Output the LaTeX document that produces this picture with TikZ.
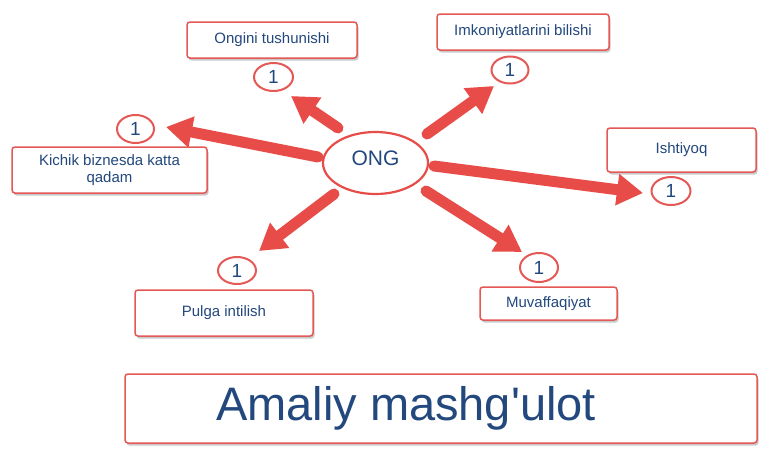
\documentclass[tikz,border=0pt]{standalone}
\usepackage{fontspec}
\setmainfont{Liberation Sans}
\usetikzlibrary{arrows.meta,shadows,shapes.geometric}
\definecolor{arrred}{RGB}{232,76,72}
\definecolor{brdred}{RGB}{228,88,86}
\definecolor{txtblue}{RGB}{35,72,125}
\tikzset{
  lbox/.style={draw=brdred, line width=1.5pt, rounded corners=3pt, fill=white,
    text=txtblue, font=\fontsize{15}{17}\selectfont, align=center, inner sep=2pt,
    drop shadow={shadow xshift=1.5pt, shadow yshift=-2.5pt, opacity=0.35, fill=black!60}},
  num/.style={ellipse, draw=brdred, line width=2pt, fill=white, text=txtblue,
    font=\fontsize{19}{21}\selectfont, inner sep=0pt},
  bigarrow/.style={draw=arrred, line width=11pt, line cap=round,
    -{Triangle[width=30pt,length=26pt]}},
}
\begin{document}
\begin{tikzpicture}[x=1pt,y=-1pt]
\useasboundingbox[fill=white] (0,0) rectangle (770,458);

% boxes
\node[lbox, minimum width=170pt, minimum height=36pt] (b1) at (272,40) {Ongini tushunishi};
\node[lbox, minimum width=172pt, minimum height=36pt] (b2) at (523,32) {Imkoniyatlarini bilishi};
\node[lbox, minimum width=195pt, minimum height=46pt] (b3) at (109.5,170) {Kichik biznesda katta\\qadam};
\node[lbox, minimum width=149pt, minimum height=44pt] (b4) at (681.5,150) {Ishtiyoq};
\node[lbox, minimum width=178pt, minimum height=46pt] (b5) at (224,313) {Pulga intilish};
\node[lbox, minimum width=137pt, minimum height=33pt] (b6) at (548.5,303.5) {Muvaffaqiyat};
\node[lbox, minimum width=632pt, minimum height=69pt] (big) at (441,408.5) {};
\node[text=txtblue, font=\fontsize{47}{50}\selectfont] (bigt) at (406,408) {Amaliy mashg\textquotesingle ulot};

% number ellipses
\node[num, minimum width=39pt, minimum height=28pt] (c1) at (273.5,77) {1};
\node[num, minimum width=37pt, minimum height=27pt] (c2) at (510,70) {1};
\node[num, minimum width=37pt, minimum height=28pt] (c3) at (135.5,129) {1};
\node[num, minimum width=39pt, minimum height=28pt] (c4) at (671,191) {1};
\node[num, minimum width=38pt, minimum height=27pt] (c5) at (237,270.5) {1};
\node[num, minimum width=38pt, minimum height=29pt] (c6) at (539,267.5) {1};

% centre
\node[ellipse, draw=arrred, line width=2.2pt, fill=white, minimum width=105pt, minimum height=62pt] (ong) at (375.5,163) {};
\node[text=txtblue, font=\fontsize{21}{23}\selectfont] (ongt) at (375.5,158) {ONG};

% arrow ends
\coordinate (s1) at (338,128); \coordinate (e1) at (291,96);
\coordinate (s2) at (427,134); \coordinate (e2) at (494,86);
\coordinate (s3) at (318,157); \coordinate (e3) at (166,127);
\coordinate (s4) at (434,166); \coordinate (e4) at (643,193);
\coordinate (s5) at (334,194); \coordinate (e5) at (259,251);
\coordinate (s6) at (426,191); \coordinate (e6) at (522,252);

\draw[bigarrow] (s1) -- (e1);
\draw[bigarrow] (s2) -- (e2);
\draw[bigarrow] (s3) -- (e3);
\draw[bigarrow] (s4) -- (e4);
\draw[bigarrow] (s5) -- (e5);
\draw[bigarrow] (s6) -- (e6);
\end{tikzpicture}
\end{document}
